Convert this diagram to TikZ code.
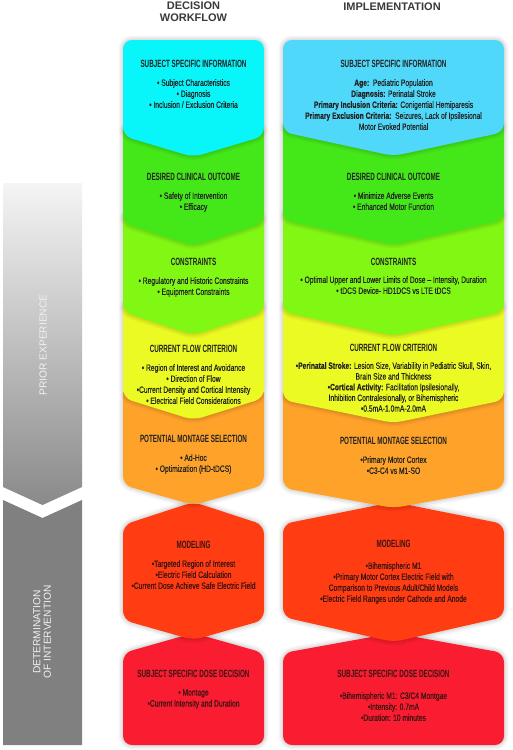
\documentclass[tikz,border=0pt]{standalone}
\usepackage{fontspec}
\setmainfont{Liberation Sans}
\newfontfamily\tfont[FakeStretch=0.6]{Liberation Sans}
\newfontfamily\bfont[FakeStretch=0.73,FakeBold=0.2]{Liberation Sans}
\definecolor{cyanL}{HTML}{08F5FA}
\definecolor{cyanR}{HTML}{50D8FA}
\definecolor{grn}{HTML}{44E818}
\definecolor{lgrn}{HTML}{80F814}
\definecolor{yel}{HTML}{EAFA22}
\definecolor{org}{HTML}{FFA22A}
\definecolor{redo}{HTML}{FF3C12}
\definecolor{redd}{HTML}{FA1C30}
\definecolor{hdr}{HTML}{3A3A3A}
\definecolor{txt}{HTML}{222222}
\definecolor{rtxt}{HTML}{3A1414}
\begin{document}
\begin{tikzpicture}[x=1pt,y=-1pt,
  boxshadow/.style={
    preaction={draw=black, draw opacity=0.035, line width=9pt},
    preaction={draw=black, draw opacity=0.04, line width=6pt},
    preaction={draw=black, draw opacity=0.05, line width=3pt}},
  rc/.style={rounded corners=9pt},
  ttl/.style={font=\tfont\bfseries\fontsize{10.5}{12}\selectfont, text=txt, inner sep=0pt, anchor=center},
  bdy/.style={font=\bfont\fontsize{9.2}{11}\selectfont, align=center, text=txt, inner sep=0pt, anchor=north},
  hd/.style={font=\bfseries\fontsize{11}{12}\selectfont, text=hdr, align=center, inner sep=0pt},
  side/.style={font=\fontsize{10.2}{10.5}\selectfont, text=white!95!black, align=center, inner sep=0pt, rotate=90}]
\useasboundingbox (0,0) rectangle (512,750);
\fill[white] (0,0) rectangle (512,750);

% ---------- sidebar ----------
\shade[top color=white!96!black, bottom color=black!46]
  (3,183) -- (82,183) -- (82,487) -- (42.5,505) -- (3,487) -- cycle;
\fill[black!50] (3,500) -- (42.5,518) -- (82,500) -- (82,745) -- (3,745) -- cycle;
\node[side] (prior) at (43,345) {PRIOR EXPERIENCE};
\node[side] (determ) at (42,632) {DETERMINATION\\OF INTERVENTION};

% ---------- headers ----------
\node[hd] (hdec) at (193.5,12) {DECISION\\WORKFLOW};
\node[hd] (himp) at (392,7) {IMPLEMENTATION};

% ---------- left column (L=123, R=264, C=193.5) ----------
\fill[redd, boxshadow, rc] (193.5,633) -- (264,653) -- (264,745) -- (123,745) -- (123,653) -- cycle;
\fill[redo, boxshadow, rc] (193.5,502) -- (264,525) -- (264,620) -- (193.5,640) -- (123,620) -- (123,525) -- cycle;
\fill[org, boxshadow, rc] (123,392) -- (264,392) -- (264,485) -- (193.5,505) -- (123,485) -- cycle;
\fill[org] (123,392) rectangle (264,410);
\fill[yel, boxshadow, rc] (123,302) -- (264,302) -- (264,398) -- (193.5,420) -- (123,398) -- cycle;
\fill[yel] (123,302) rectangle (264,320);
\fill[lgrn, boxshadow, rc] (123,213) -- (264,213) -- (264,312) -- (193.5,335) -- (123,312) -- cycle;
\fill[lgrn] (123,213) rectangle (264,230);
\fill[grn, boxshadow, rc] (123,125) -- (264,125) -- (264,223) -- (193.5,246) -- (123,223) -- cycle;
\fill[grn] (123,125) rectangle (264,142);
\fill[cyanL, boxshadow, rc] (123,40) -- (264,40) -- (264,136) -- (193.5,157) -- (123,136) -- cycle;

% ---------- right column (L=283, R=504, C=393.5) ----------
\fill[redd, boxshadow, rc] (393.5,633) -- (504,653) -- (504,745) -- (283,745) -- (283,653) -- cycle;
\fill[redo, boxshadow, rc] (393.5,502) -- (504,524) -- (504,617) -- (393.5,642) -- (283,617) -- (283,524) -- cycle;
\fill[org, boxshadow, rc] (283,392) -- (504,392) -- (504,488) -- (393.5,508) -- (283,488) -- cycle;
\fill[org] (283,392) rectangle (504,410);
\fill[yel, boxshadow, rc] (283,302) -- (504,302) -- (504,400) -- (393.5,423) -- (283,400) -- cycle;
\fill[yel] (283,302) rectangle (504,320);
\fill[lgrn, boxshadow, rc] (283,210) -- (504,210) -- (504,312) -- (393.5,336) -- (283,312) -- cycle;
\fill[lgrn] (283,210) rectangle (504,228);
\fill[grn, boxshadow, rc] (283,122) -- (504,122) -- (504,220) -- (393.5,245) -- (283,220) -- cycle;
\fill[grn] (283,122) rectangle (504,140);
\fill[cyanR, boxshadow, rc]
  (283,40) -- (504,40) -- (504,132) -- (393.5,156) -- (283,132) -- cycle;

% ---------- left texts ----------
\node[ttl] (t1) at (193.5,64) {SUBJECT SPECIFIC INFORMATION};
\node[bdy] (b1) at (193.5,79) {• Subject Characteristics\\• Diagnosis\\• Inclusion / Exclusion Criteria};
\node[ttl] (t2) at (193.5,177) {DESIRED CLINICAL OUTCOME};
\node[bdy] (b2) at (193.5,192) {• Safety of Intervention\\• Efficacy};
\node[ttl] (t3) at (193.5,262) {CONSTRAINTS};
\node[bdy] (b3) at (193.5,277) {• Regulatory and Historic Constraints\\• Equipment Constraints};
\node[ttl] (t4) at (193.5,349) {CURRENT FLOW CRITERION};
\node[bdy] (b4) at (193.5,364) {• Region of Interest and Avoidance\\• Direction of Flow\\•Current Density and Cortical Intensity\\• Electrical Field Considerations};
\node[ttl] (t5) at (193.5,439) {POTENTIAL MONTAGE SELECTION};
\node[bdy] (b5) at (193.5,454) {• Ad-Hoc\\• Optimization (HD-tDCS)};
\node[ttl, text=rtxt] (t6) at (193.5,545) {MODELING};
\node[bdy, text=rtxt] (b6) at (193.5,560) {•Targeted Region of Interest\\•Electric Field Calculation\\•Current Dose Achieve Safe Electric Field};
\node[ttl, text=rtxt] (t7) at (193.5,674) {SUBJECT SPECIFIC DOSE DECISION};
\node[bdy, text=rtxt] (b7) at (193.5,689) {• Montage\\•Current Intensity and Duration};

% ---------- right texts ----------
\node[ttl] (r1) at (393.5,64) {SUBJECT SPECIFIC INFORMATION};
\node[bdy] (s1) at (393.5,79) {\textbf{Age:}\ \ Pediatric Population\\\textbf{Diagnosis:} Perinatal Stroke\\\textbf{Primary Inclusion Criteria:} Conigential Hemiparesis\\\textbf{Primary Exclusion Criteria:}\ \ Seizures, Lack of Ipsilesional\\Motor Evoked Potential};
\node[ttl] (r2) at (393.5,177) {DESIRED CLINICAL OUTCOME};
\node[bdy] (s2) at (393.5,192) {• Minimize Adverse Events\\• Enhanced Motor Function};
\node[ttl] (r3) at (393.5,262) {CONSTRAINTS};
\node[bdy] (s3) at (393.5,276) {• Optimal Upper and Lower Limits of Dose – Intensity, Duration\\• tDCS Device- HD1DCS vs LTE tDCS};
\node[ttl] (r4) at (393.5,348) {CURRENT FLOW CRITERION};
\node[bdy, font=\bfont\fontsize{9.2}{10.7}\selectfont] (s4) at (393.5,362) {•\textbf{Perinatal Stroke:} Lesion Size, Variability in Pediatric Skull, Skin,\\Brain Size and Thickness\\•\textbf{Cortical Activity:} Facilitation Ipsilesionally,\\Inhibition Contralesionally, or Bihemispheric\\•0.5mA-1.0mA-2.0mA};
\node[ttl] (r5) at (393.5,441) {POTENTIAL MONTAGE SELECTION};
\node[bdy] (s5) at (393.5,456) {•Primary Motor Cortex\\•C3-C4 vs M1-SO};
\node[ttl, text=rtxt] (r6) at (393.5,544) {MODELING};
\node[bdy, text=rtxt] (s6) at (393.5,562) {•Bihemispheric M1\\•Primary Motor Cortex Electric Field with\\Comparison to Previous Adult/Child Models\\•Electric Field Ranges under Cathode and Anode};
\node[ttl, text=rtxt] (r7) at (393.5,674) {SUBJECT SPECIFIC DOSE DECISION};
\node[bdy, text=rtxt] (s7) at (393.5,692) {•Bihemispheric M1: C3/C4 Montgae\\•Intensity: 0.7mA\\•Duration: 10 minutes};
\end{tikzpicture}
\end{document}
